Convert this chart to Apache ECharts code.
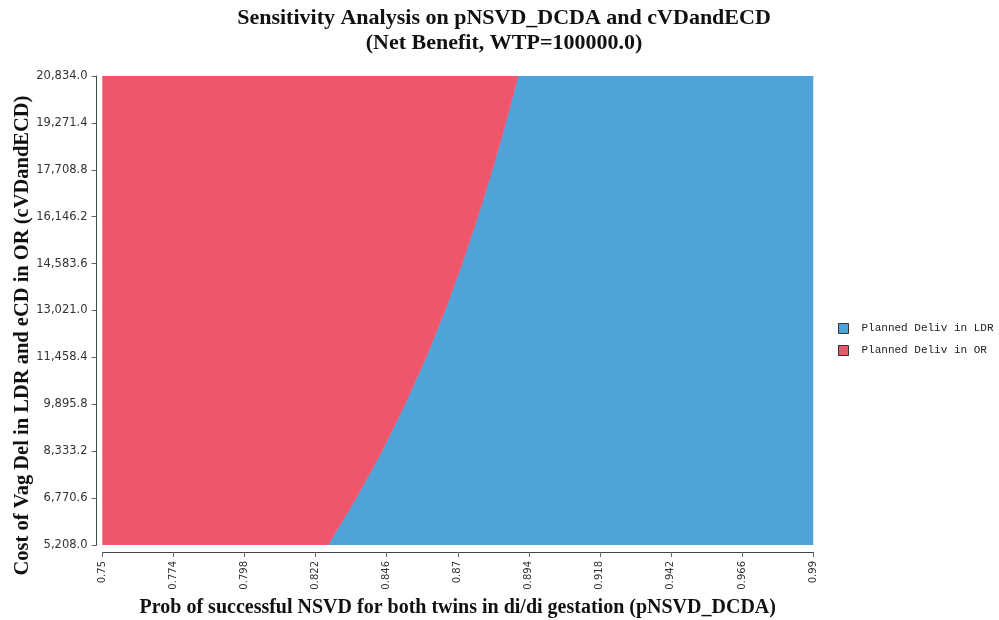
<!DOCTYPE html>
<html>
<head>
<meta charset="utf-8">
<script src="https://cdn.jsdelivr.net/npm/echarts@6/dist/echarts.min.js"></script>
<style>html,body{margin:0;padding:0;background:#fff}#c{width:999px;height:620px}</style>
</head>
<body>
<div id="c"></div>
<script>
// Data
const seriesNames = ['Planned Deliv in LDR', 'Planned Deliv in OR'];
const xTicks = [0.75, 0.774, 0.798, 0.822, 0.846, 0.87, 0.894, 0.918, 0.942, 0.966, 0.99];
const yTicks = [5208.0, 6770.6, 8333.2, 9895.8, 11458.4, 13021.0, 14583.6, 16146.2, 17708.8, 19271.4, 20834.0];
// boundary between strategies: cost value -> threshold probability
const boundaryCost = [5208.0, 6770.6, 8333.2, 9895.8, 11458.4, 13021.0, 14583.6, 16146.2, 17708.8, 19271.4, 20834.0];
const boundaryProb = [0.8262, 0.8357, 0.8444, 0.8522, 0.8593, 0.8657, 0.8715, 0.8768, 0.8817, 0.8862, 0.8904];

const xMin = xTicks[0], xMax = xTicks[xTicks.length - 1];
const yMin = yTicks[0], yMax = yTicks[yTicks.length - 1];

const boundary = boundaryCost.map((c, i) => [boundaryProb[i], c]);
const orPoly = [[xMin, yMin]].concat(boundary).concat([[xMin, yMax]]);
const ldrPoly = boundary.slice().reverse().concat([[xMax, yMin], [xMax, yMax]]);

function polySeries(name, poly, color) {
  return {
    name: name,
    type: 'custom',
    clip: true,
    itemStyle: { color: color },
    data: [[xMin, yMin]],
    renderItem: function (params, api) {
      const pts = poly.map(p => api.coord(p));
      return {
        type: 'polygon',
        shape: { points: pts },
        style: { fill: color, stroke: color, lineWidth: 0.5 }
      };
    }
  };
}

const fmtY = v => Number(v).toLocaleString('en-US', { minimumFractionDigits: 1, maximumFractionDigits: 1 });
const fmtX = v => String(parseFloat(Number(v).toFixed(3)));

const chart = echarts.init(document.getElementById('c'), null, { renderer: 'canvas' });
chart.setOption({
  animation: false,
  backgroundColor: '#ffffff',
  title: {
    text: 'Sensitivity Analysis on pNSVD_DCDA and cVDandECD\n(Net Benefit, WTP=100000.0)',
    left: 499, top: 1, textAlign: 'center',
    textStyle: { fontFamily: 'Liberation Serif', fontWeight: 'bold', fontSize: 22, lineHeight: 25, color: '#111' }
  },
  legend: {
    orient: 'vertical', left: 833, top: 318, itemGap: 11,
    itemWidth: 10, itemHeight: 10, icon: 'rect',
    data: seriesNames,
    itemStyle: { borderColor: '#333', borderWidth: 1 },
    textStyle: { fontFamily: 'Liberation Mono', fontSize: 11, color: '#222', padding: [0, 0, 0, 8] }
  },
  grid: { left: 102.5, right: 186, top: 76, bottom: 75, containLabel: false, outerBoundsMode: 'none' },
  xAxis: {
    type: 'value', min: xMin, max: xMax, offset: 7,
    name: 'Prob of successful NSVD for both twins in di/di gestation (pNSVD_DCDA)',
    nameLocation: 'middle', nameGap: 46, nameMoveOverlap: false,
    nameTextStyle: { fontFamily: 'Liberation Serif', fontWeight: 'bold', fontSize: 20, color: '#111' },
    axisLine: { show: true, lineStyle: { color: '#444', width: 1 } },
    axisTick: { show: true, length: 5, lineStyle: { color: '#666' }, customValues: xTicks },
    axisLabel: { rotate: 90, margin: 9, fontFamily: 'DejaVu Sans', fontSize: 10, color: '#333', customValues: xTicks, formatter: fmtX },
    splitLine: { show: false }
  },
  yAxis: {
    type: 'value', min: yMin, max: yMax, offset: 6,
    name: 'Cost of Vag Del in LDR and eCD in OR (cVDandECD)',
    nameLocation: 'middle', nameGap: 63, nameMoveOverlap: false,
    nameTextStyle: { fontFamily: 'Liberation Serif', fontWeight: 'bold', fontSize: 20.5, color: '#111', padding: [0, 50, 0, 0] },
    axisLine: { show: true, lineStyle: { color: '#444', width: 1 } },
    axisTick: { show: true, length: 5, lineStyle: { color: '#666' }, customValues: yTicks },
    axisLabel: { margin: 9, fontFamily: 'DejaVu Sans', fontSize: 11.5, color: '#333', customValues: yTicks, formatter: fmtY },
    splitLine: { show: false }
  },
  series: [
    polySeries(seriesNames[0], ldrPoly, '#4FA3D8'),
    polySeries(seriesNames[1], orPoly, '#F0566B')
  ]
});
</script>
</body>
</html>
